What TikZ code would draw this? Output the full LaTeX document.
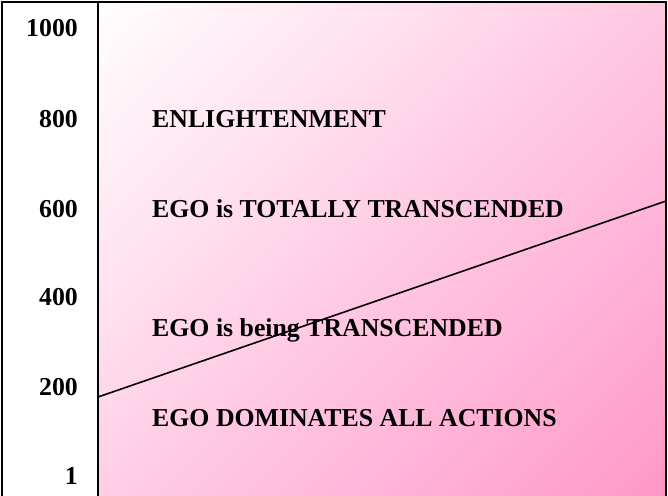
\documentclass[tikz,border=0pt]{standalone}
\usepackage{fontspec}
\setmainfont{Liberation Serif}
\definecolor{egopink}{RGB}{255,148,198}
\pgfdeclareverticalshading{egoshade}{100bp}{color(0bp)=(egopink); color(12bp)=(egopink); color(86bp)=(white); color(100bp)=(white)}
\tikzset{
    scalelabel/.style={anchor=base east, inner sep=0pt, font=\fontsize{25.8}{31}\selectfont\bfseries},
    stagelabel/.style={anchor=base west, inner sep=0pt, font=\fontsize{25.8}{31}\selectfont\bfseries},
    frameline/.style={line width=2pt}
}
\begin{document}
\begin{tikzpicture}[x=1pt, y=-1pt]
    \useasboundingbox (0,0) rectangle (668,495);
    % shaded area right of the scale
    \shade[shading=egoshade, shading angle=45] (98,2) rectangle (666,495);
    \draw[frameline] (2,500) -- (2,2) -- (666,2) -- (666,500);
    \draw[frameline] (98,2) -- (98,500);

    % scale values
    \foreach \val/\y in {1000/37, 800/127, 600/217, 400/305, 200/395, 1/484}
        \node[scalelabel] (v\val) at (78,\y) {\val};

    \node[stagelabel] (enlight) at (152,127) {ENLIGHTENMENT};
    \node[stagelabel] (totally) at (152,217) {EGO is TOTALLY TRANSCENDED};
    \node[stagelabel] (being) at (152,336) {EGO is being TRANSCENDED};
    \node[stagelabel] (dominates) at (152,426) {EGO DOMINATES ALL ACTIONS};

    \coordinate (lowend) at (98,397);
    \coordinate (highend) at (666,201);
    \draw[line width=1.6pt] (lowend) -- (highend);
\end{tikzpicture}
\end{document}
